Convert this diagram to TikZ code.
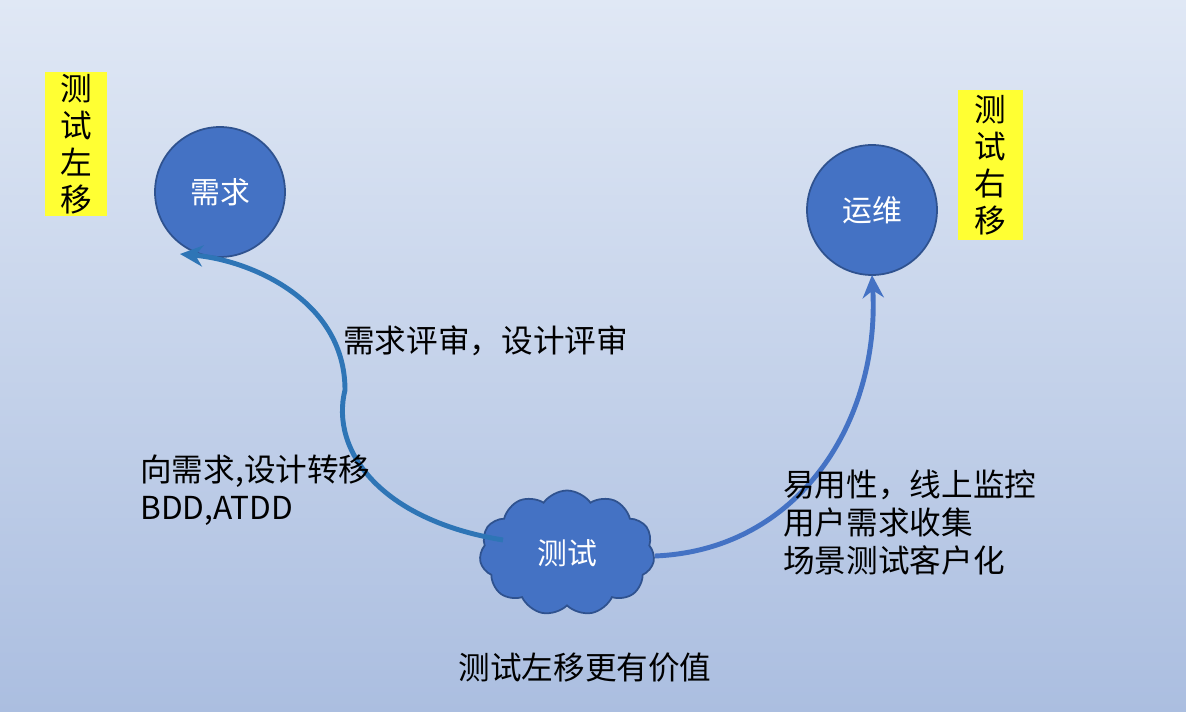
\documentclass[tikz,border=0pt]{standalone}
\usepackage{fontspec}
\setmainfont{Noto Sans CJK SC}
\usetikzlibrary{shapes.symbols,arrows.meta}
\definecolor{bgtop}{HTML}{E0E8F5}
\definecolor{bgbot}{HTML}{ABBEE0}
\definecolor{nodefill}{HTML}{4472C4}
\definecolor{nodeline}{HTML}{2F528F}
\definecolor{arrowc}{HTML}{2E75B6}
\definecolor{arrowr}{HTML}{4472C4}
\definecolor{yel}{HTML}{FFFF33}
\tikzset{
  bubble/.style={circle,fill=nodefill,draw=nodeline,line width=1pt,minimum size=2.6cm,text=white,font=\fontsize{17pt}{20pt}\selectfont},
  tag/.style={fill=yel,inner sep=0pt,font=\fontsize{18pt}{21pt}\selectfont,align=center},
  lbl/.style={font=\fontsize{18pt}{21.5pt}\selectfont,align=left,inner sep=0pt},
  flow/.style={line width=2.8pt,-{Stealth[length=13pt,width=12pt]}}
}
\begin{document}
\begin{tikzpicture}[x=0.02cm,y=-0.02cm]
\shade[top color=bgtop,bottom color=bgbot] (0,0) rectangle (1186,712);
\useasboundingbox (0,0) rectangle (1186,712);
\node[bubble] (req) at (220,192) {需求};
\node[bubble] (ops) at (872,210) {运维};
\node[cloud,cloud puffs=11,cloud puff arc=110,aspect=1.5,fill=nodefill,draw=nodeline,line width=1pt,minimum width=3.5cm,minimum height=2.5cm,text=white,font=\fontsize{17pt}{20pt}\selectfont] (test) at (567,553) {测试};
\node[tag,minimum width=1.26cm,minimum height=2.88cm] (lt) at (76,144) {测\\试\\左\\移};
\node[tag,minimum width=1.3cm,minimum height=3cm] (rt) at (990,165) {测\\试\\右\\移};
\coordinate (ls) at (503,540);
\coordinate (la) at (180,254);
\draw[flow,draw=arrowc] (ls) .. controls (380,520) and (330,450) .. (345,390)
   .. controls (345,300) and (250,260) .. (la);
\coordinate (rs) at (655,556);
\coordinate (ra) at (872,275);
\draw[flow,draw=arrowr] (rs) .. controls (800,550) and (880,420) .. (ra);
\node[lbl,anchor=west] (t1) at (343,341) {需求评审，设计评审};
\node[lbl,anchor=north west] (t2) at (140,455) {向需求,设计转移\\BDD,ATDD};
\node[lbl,anchor=north west] (t3) at (783,470) {易用性，线上监控\\用户需求收集\\场景测试客户化};
\node[lbl] (t4) at (585,668) {测试左移更有价值};
\end{tikzpicture}
\end{document}
